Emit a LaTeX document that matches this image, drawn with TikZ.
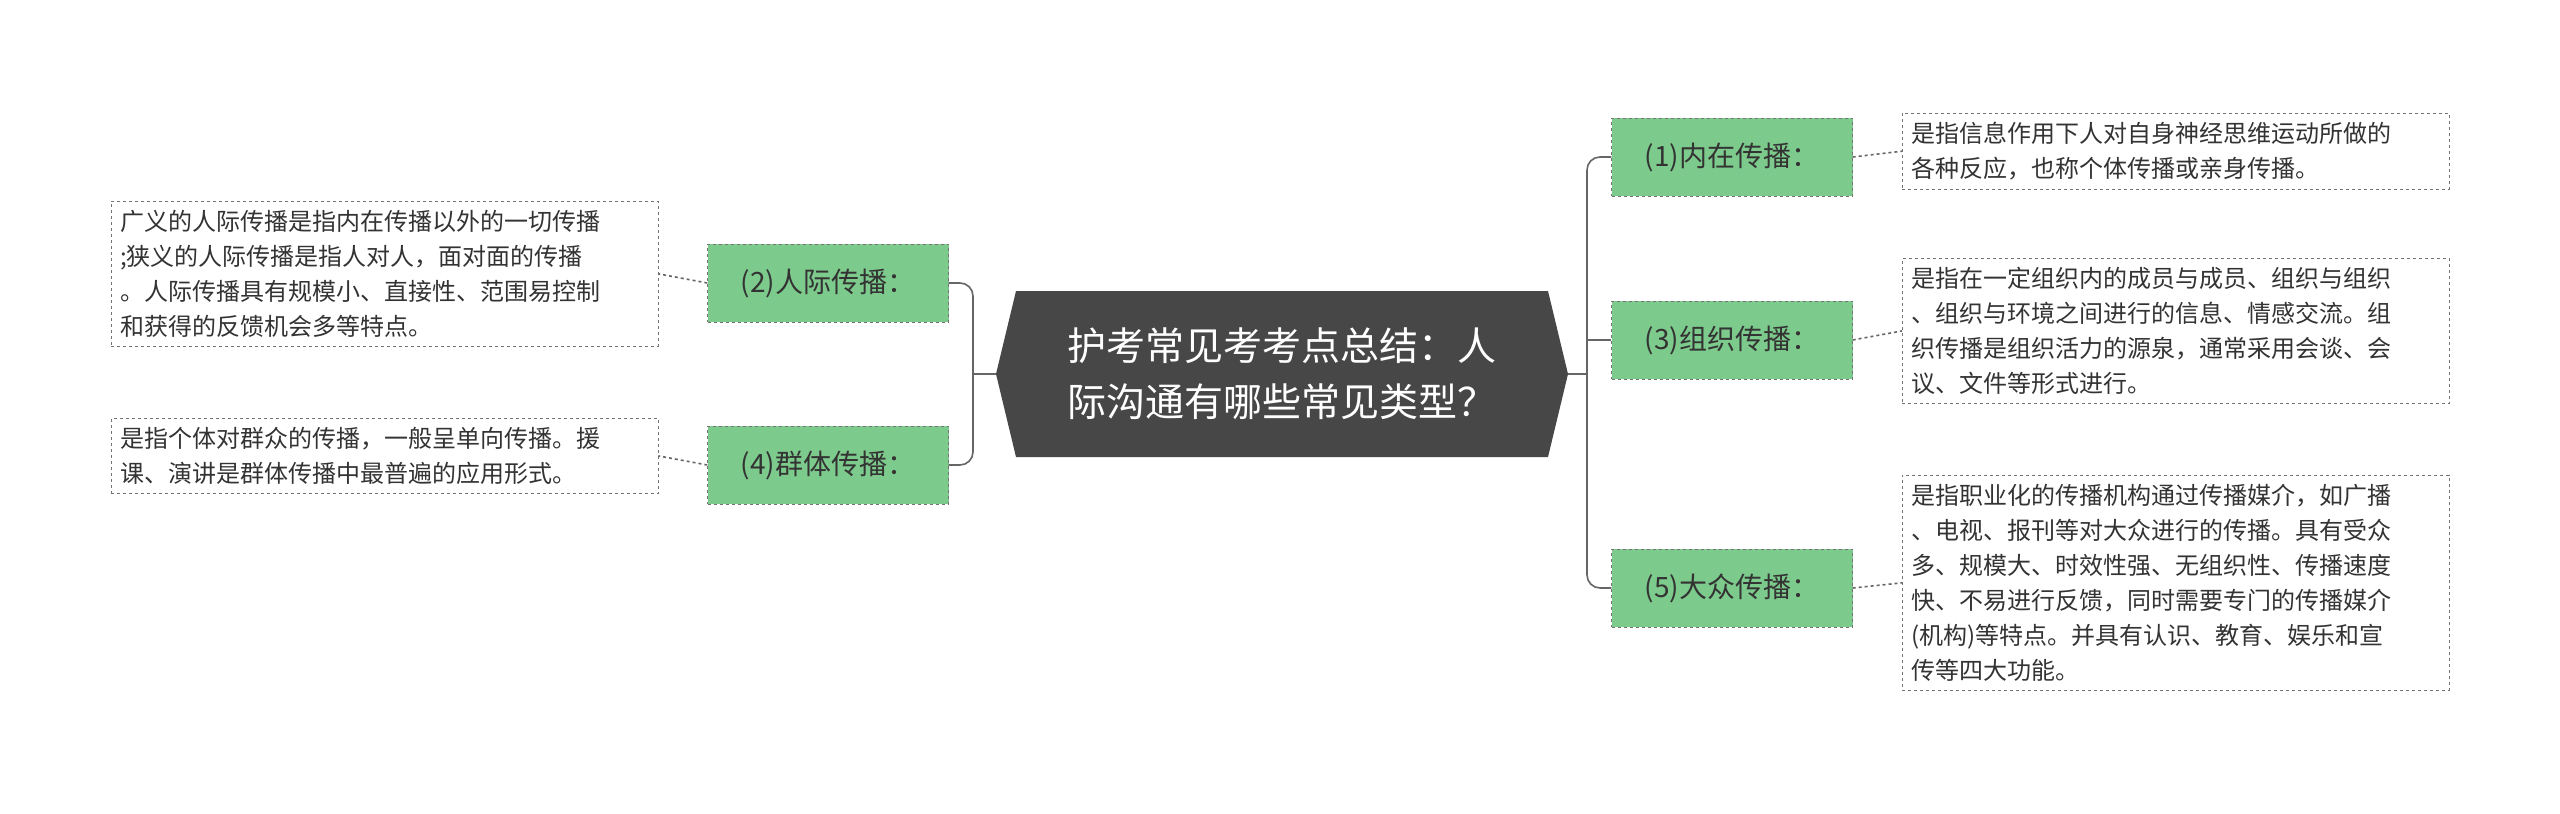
\documentclass[tikz,border=0pt]{standalone}
\usepackage{fontspec}
\setmainfont{Noto Sans CJK SC}
\begin{document}
\begin{tikzpicture}[x=1pt,y=-1pt,
  cat/.style={draw=black!55,dashed,fill=catg,minimum width=241pt,minimum height=78pt,inner sep=0pt,font=\fontsize{28}{32}\selectfont,text=black!80},
  desc/.style={draw=black!55,dashed,inner sep=9pt,anchor=north west,align=left,font=\fontsize{24}{35}\selectfont,text=black!80},
  link/.style={draw=black!60,line width=1.6pt},
  dlink/.style={draw=black!60,line width=1.6pt,dashed}]
\definecolor{catg}{HTML}{7DCB8C}
\useasboundingbox (0,0) rectangle (2560,814);
\fill[white] (0,0) rectangle (2560,814);
% center
\fill[black!72] (996,374) -- (1016,291) -- (1548,291) -- (1568,374) -- (1548,457) -- (1016,457) -- cycle;
\node[align=left,text=white,font=\fontsize{39}{56}\selectfont] (c) at (1282,374) {护考常见考考点总结：人\\际沟通有哪些常见类型？};
\coordinate (cr) at (1568,374);
\coordinate (cl) at (996,374);
% categories
\node[cat] (n1) at (1732,157) {(1)内在传播：};
\node[cat] (n3) at (1732,340) {(3)组织传播：};
\node[cat] (n5) at (1732,588) {(5)大众传播：};
\node[cat] (n2) at (828,283) {(2)人际传播：};
\node[cat] (n4) at (828,465) {(4)群体传播：};
% descriptions
\node[desc,text width=529pt] (d1) at (1902,113) {是指信息作用下人对自身神经思维运动所做的\\各种反应，也称个体传播或亲身传播。};
\node[desc,text width=529pt] (d3) at (1902,258) {是指在一定组织内的成员与成员、组织与组织\\、组织与环境之间进行的信息、情感交流。组\\织传播是组织活力的源泉，通常采用会谈、会\\议、文件等形式进行。};
\node[desc,text width=529pt] (d5) at (1902,475) {是指职业化的传播机构通过传播媒介，如广播\\、电视、报刊等对大众进行的传播。具有受众\\多、规模大、时效性强、无组织性、传播速度\\快、不易进行反馈，同时需要专门的传播媒介\\(机构)等特点。并具有认识、教育、娱乐和宣\\传等四大功能。};
\node[desc,text width=529pt] (d2) at (111,201) {广义的人际传播是指内在传播以外的一切传播\\;狭义的人际传播是指人对人，面对面的传播\\。人际传播具有规模小、直接性、范围易控制\\和获得的反馈机会多等特点。};
\node[desc,text width=529pt] (d4) at (111,418) {是指个体对群众的传播，一般呈单向传播。援\\课、演讲是群体传播中最普遍的应用形式。};
% connectors
\draw[link] (cr) -- (1587,374);
\draw[link] (n1.west) -- (1600,157) to[out=180,in=90] (1587,170) -- (1587,575) to[out=-90,in=180] (1600,588) -- (n5.west);
\draw[link] (1587,340) -- (n3.west);
\draw[link] (cl) -- (973,374);
\draw[link] (n2.east) -- (960,283) to[out=0,in=90] (973,296) -- (973,452) to[out=-90,in=0] (960,465) -- (n4.east);
\draw[dlink] (n1.east) -- (d1.west);
\draw[dlink] (n3.east) -- (d3.west);
\draw[dlink] (n5.east) -- (d5.west);
\draw[dlink] (n2.west) -- (d2.east);
\draw[dlink] (n4.west) -- (d4.east);
\end{tikzpicture}
\end{document}
